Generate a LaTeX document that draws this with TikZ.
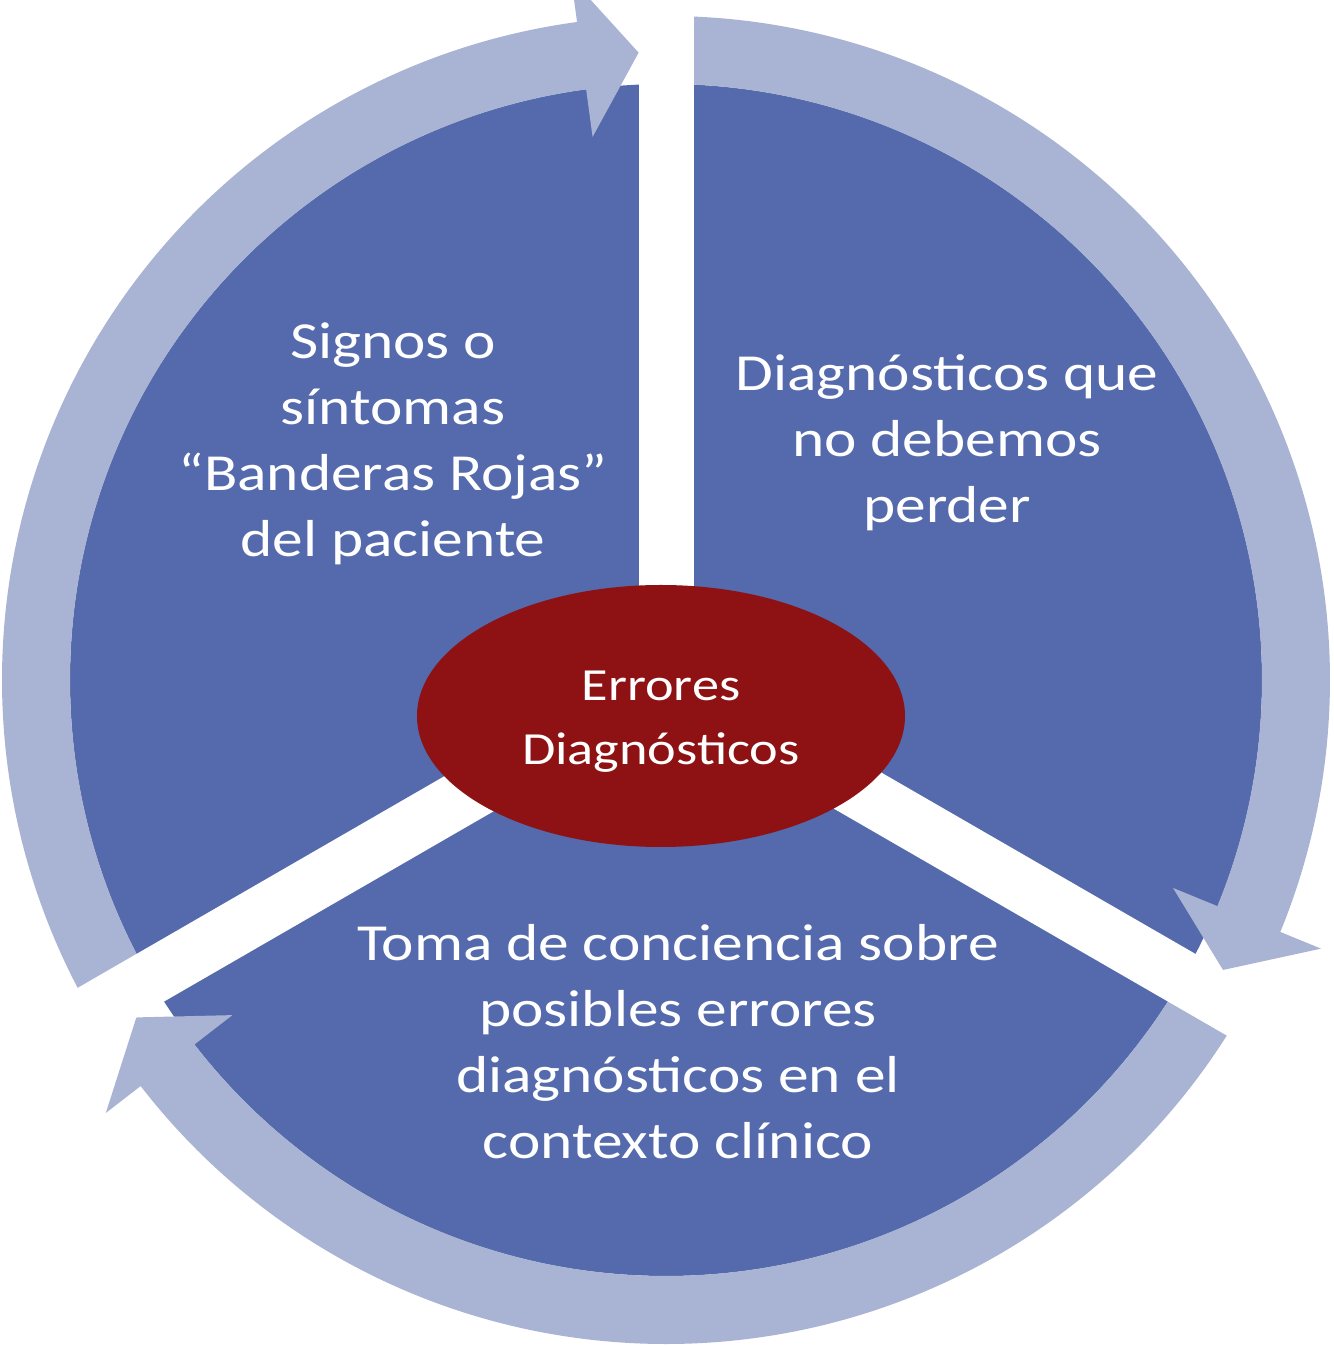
\documentclass[tikz,border=0pt]{standalone}
\usepackage{fontspec}
\setmainfont[FakeStretch=1.18]{Carlito}
\usepackage{tikz}
\usetikzlibrary{shapes.geometric}
\definecolor{SegBlue}{RGB}{84,106,172}
\definecolor{RingBlue}{RGB}{169,179,211}
\definecolor{CoreRed}{RGB}{142,18,20}
\tikzset{segtext/.style={text=white,align=center,font=\fontsize{26}{33}\selectfont}}

\begin{document}
\begin{tikzpicture}[x=0.5pt,y=0.5pt]
    \useasboundingbox (-666,-667) rectangle (667,680);
    \fill[SegBlue] (0,0) circle[radius=596];
    \foreach \a in {210,90,-30} {
        \fill[RingBlue] (\a:664) arc[start angle=\a,end angle=\a-112.3,radius=664]
            -- (\a-112.3:708) -- (\a-117.5:628) -- (\a-112.3:548)
            -- (\a-112.3:596) arc[start angle=\a-112.3,end angle=\a,radius=596] -- cycle;
    }
    \foreach \g in {90,210,330}
        \draw[white,line width=27.5pt] (0,0) -- (\g:740);
    \node[segtext] (signos) at (-273,236) {Signos o\\síntomas\\“Banderas Rojas”\\del paciente};
    \node[segtext] (perder) at (281,237) {Diagnósticos que\\no debemos\\perder};
    \node[segtext] (conciencia) at (12,-362) {Toma de conciencia sobre\\posibles errores\\diagnósticos en el\\contexto clínico};
    \node[ellipse,fill=CoreRed,minimum width=244pt,minimum height=131pt,inner sep=0pt] (errores) at (-5,-36) {};
    \node[text=white,align=center,font=\fontsize{23}{32}\selectfont,yshift=-3pt] (errtxt) at (errores.center) {Errores\\Diagnósticos};
\end{tikzpicture}
\end{document}
